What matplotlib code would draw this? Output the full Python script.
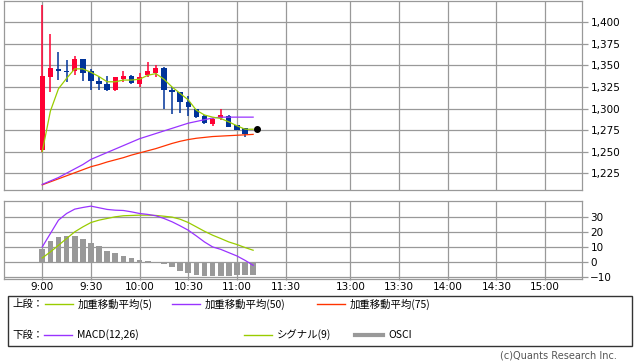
import matplotlib
matplotlib.use("Agg")
import matplotlib.pyplot as plt
from matplotlib.patches import Rectangle
from matplotlib.ticker import FuncFormatter
import numpy as np

plt.rcParams["font.family"] = ["DejaVu Sans", "Noto Sans CJK JP"]

# 5-minute bars, 9:00 .. 11:10
times = ["9:00", "9:05", "9:10", "9:15", "9:20", "9:25", "9:30", "9:35", "9:40",
         "9:45", "9:50", "9:55", "10:00", "10:05", "10:10", "10:15", "10:20",
         "10:25", "10:30", "10:35", "10:40", "10:45", "10:50", "10:55", "11:00",
         "11:05", "11:10"]

opens = [1252, 1337, 1346, 1344, 1343, 1357, 1343, 1332, 1328, 1321, 1334, 1338, 1329,
         1339, 1341, 1347, 1321, 1319, 1307, 1300, 1291, 1282, 1289, 1291, 1281, 1277]
highs = [1420, 1387, 1366, 1356, 1361, 1357, 1346, 1336, 1338, 1336, 1343, 1339, 1341,
         1354, 1351, 1348, 1325, 1319, 1314, 1300, 1292, 1289, 1300, 1292, 1281, 1277]
lows = [1250, 1319, 1333, 1331, 1339, 1332, 1321, 1321, 1320, 1320, 1331, 1329, 1325,
        1337, 1336, 1300, 1294, 1295, 1291, 1289, 1282, 1280, 1287, 1278, 1275, 1267]
closes = [1338, 1347, 1343, 1342, 1357, 1341, 1332, 1328, 1321, 1336, 1338, 1330, 1336,
          1343, 1347, 1321, 1319, 1307, 1302, 1290, 1283, 1288, 1293, 1279, 1275, 1271]
last_price = 1276

wma5 = [1250, 1297, 1323, 1335, 1346, 1346, 1342, 1337, 1331, 1331, 1333, 1333, 1334,
        1338.5, 1340.5, 1334, 1325, 1317.5, 1310, 1298, 1292.5, 1290, 1288.5, 1284.5,
        1280, 1276, 1276]
wma50 = [1212, 1216, 1220, 1225, 1230, 1235, 1241, 1245, 1249, 1253, 1257, 1261, 1265,
         1268, 1271, 1274, 1277, 1280, 1283, 1285, 1287, 1289, 1290, 1290, 1290, 1290, 1290]
wma75 = [1211.5, 1215, 1218.5, 1222, 1225.5, 1229, 1232.5, 1235, 1238, 1240.5, 1243,
         1246, 1248.5, 1251, 1253.5, 1256.5, 1259.5, 1262, 1264, 1265.5, 1266.5, 1267.5,
         1268, 1268.5, 1269, 1269.5, 1270]

macd = [10, 18.9, 27.8, 32.2, 35.1, 36.2, 37.1, 36, 34.9, 34.4, 34.2, 33.3, 32.2, 31.6,
        30.7, 28.9, 26.7, 24, 21.1, 17.3, 13.3, 10, 8.4, 6.2, 4, 1.1, -2.2]
signal = [2.7, 6.7, 11.1, 15.6, 20, 23.3, 26.2, 27.8, 28.9, 30, 30.7, 30.9, 31.1, 31.1,
          30.9, 30.4, 29.8, 28.4, 26.2, 23.3, 20.4, 17.8, 15.6, 13.3, 11.6, 9.6, 7.8]
osci = [8.4, 13.8, 16.4, 17.1, 17.1, 15.1, 12.4, 10.4, 7.1, 6.2, 3.8, 2.7, 1.1, 0.4,
        -0.4, -1.6, -3.3, -6, -7.3, -8.9, -9.1, -9.3, -9.3, -9.3, -8.9, -8.9, -8.4]

tick_labels = ["9:00", "9:30", "10:00", "10:30", "11:00", "11:30",
               "13:00", "13:30", "14:00", "14:30", "15:00"]
price_ticks = [1225, 1250, 1275, 1300, 1325, 1350, 1375, 1400]
macd_ticks = [-10, 0, 10, 20, 30]

UP = "#ff0033"
DOWN = "#003399"
C5 = "#99cc00"
C50 = "#9933ff"
C75 = "#ff3300"
GRID = "#999999"


def time_to_x(t):
    # one unit per 5 minutes, lunch break squeezed to 10 minutes
    h, m = map(int, t.split(":"))
    mins = h * 60 + m
    if mins <= 11 * 60 + 30:
        return (mins - 9 * 60) / 5
    return 32 + (mins - (12 * 60 + 30)) / 5


x = np.array([time_to_x(t) for t in times])
xt = [time_to_x(t) for t in tick_labels]
XLIM = (-4.72, 66.55)


def style(ax):
    ax.set_xlim(*XLIM)
    ax.set_xticks(xt)
    ax.grid(True, color=GRID, linewidth=0.9)
    ax.set_axisbelow(True)
    for s in ax.spines.values():
        s.set_color(GRID)
        s.set_linewidth(0.9)
    ax.yaxis.tick_right()
    ax.tick_params(axis="y", colors=GRID, labelcolor="black", length=4, width=0.9,
                   labelsize=7.5, pad=2)
    ax.tick_params(axis="x", colors=GRID, labelcolor="black", length=1, width=0.9,
                   labelsize=7.5, pad=1)


W, H = 638, 362
fig = plt.figure(figsize=(W / 100, H / 100), dpi=100)

ax1 = fig.add_axes([4 / W, 1 - 190 / H, 578 / W, 189 / H])
ax2 = fig.add_axes([4 / W, 1 - 279 / H, 578 / W, 78 / H])
style(ax1)
style(ax2)

# candles
n = len(closes)
xc = x[:n]
cols = [UP if c >= o else DOWN for o, c in zip(opens, closes)]
ax1.vlines(xc, lows, highs, colors=cols, linewidth=1.1, zorder=3)
bottoms = [min(o, c) for o, c in zip(opens, closes)]
heights = [max(abs(c - o), 0.8) for o, c in zip(opens, closes)]
ax1.bar(xc, heights, bottom=bottoms, width=0.66, color=cols, zorder=4, linewidth=0)

ax1.plot(x, wma75, color=C75, linewidth=0.9, zorder=5)
ax1.plot(x, wma50, color=C50, linewidth=0.9, zorder=5)
ax1.plot(x, wma5, color=C5, linewidth=0.9, zorder=5)
ax1.plot([x[-1] + 0.5], [last_price], "o", color="black", markersize=4, zorder=6)

ax1.set_ylim(1205.5, 1424.7)
ax1.set_yticks(price_ticks)
ax1.yaxis.set_major_formatter(FuncFormatter(lambda v, p: f"{int(v):,}"))
ax1.tick_params(axis="x", length=0, labelbottom=False)

ax2.bar(x, osci, width=0.7, color="#999999", zorder=3, linewidth=0)
ax2.plot(x, signal, color=C5, linewidth=0.9, zorder=4)
ax2.plot(x, macd, color=C50, linewidth=0.9, zorder=4)
ax2.set_ylim(-11.3, 40.5)
ax2.set_yticks(macd_ticks)
ax2.set_xticklabels(tick_labels)

# legend box
lg = fig.add_axes([0, 0, 1, 1])
lg.set_xlim(0, W)
lg.set_ylim(H, 0)
lg.axis("off")
lg.add_patch(Rectangle((8, 296), 624, 50, fill=False, edgecolor="#333333", linewidth=1))
jp = ["Noto Sans CJK JP", "DejaVu Sans"]
row1 = [(C5, "加重移動平均(5)", 45), (C50, "加重移動平均(50)", 172), (C75, "加重移動平均(75)", 317)]
row2 = [(C50, "MACD(12,26)", 44, 1.0), (C5, "シグナル(9)", 244, 1.0), ("#999999", "OSCI", 355, 3.0)]
lg.text(12, 304, "上段：", family=jp, fontsize=7.5, va="center")
for c, label, x0 in row1:
    lg.plot([x0, x0 + 28], [304, 304], color=c, linewidth=1.0)
    lg.text(x0 + 33, 304, label, family=jp, fontsize=7.5, va="center")
lg.text(12, 335, "下段：", family=jp, fontsize=7.5, va="center")
for c, label, x0, lw in row2:
    lg.plot([x0, x0 + 28], [335, 335], color=c, linewidth=lw)
    lg.text(x0 + 33, 335, label, family=jp, fontsize=7.5, va="center")
lg.text(617, 355, "(c)Quants Research Inc.", fontsize=7, color="#555555",
        ha="right", va="center")

fig.savefig("out.png", dpi=100)
